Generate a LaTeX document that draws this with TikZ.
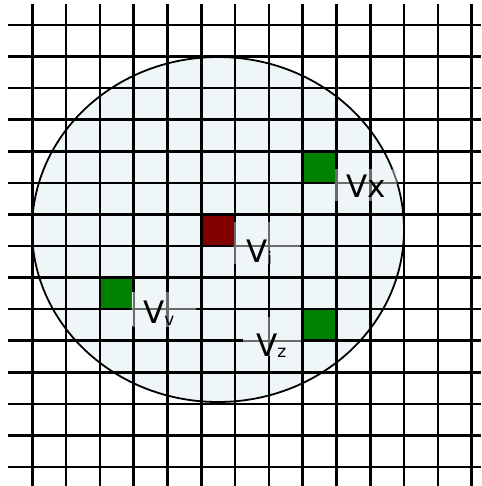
\documentclass[tikz,border=0pt]{standalone}
\usepackage{fontspec}
\setmainfont{DejaVu Sans}
\definecolor{disk}{HTML}{EEF6F8}
\definecolor{cellred}{HTML}{800000}
\definecolor{cellgreen}{HTML}{008000}
\begin{document}
\begin{tikzpicture}[x=1pt,y=-1pt,
  gridline/.style={line width=2.6pt,black},
  veilline/.style={line width=2.4pt,color=black!58},
  lbl/.style={inner sep=0pt,anchor=base west,font=\fontsize{31}{36}\selectfont}]
\useasboundingbox (0,0) rectangle (481,486);
% disk
\fill[disk] (218,229.5) ellipse [x radius=186,y radius=172.5];
% cells
\fill[cellred]   (201,215) rectangle (234,247);
\fill[cellgreen] (302,152) rectangle (336,183);
\fill[cellgreen] (99,278)  rectangle (133,310);
\fill[cellgreen] (302,310) rectangle (336,341);
% grid
\foreach \i in {0,...,13} {
  \draw[gridline] ({32.3+33.8*\i},4) -- ({32.3+33.8*\i},486);
}
\foreach \j in {0,...,14} {
  \draw[gridline] (8,{25+31.57*\j}) -- (481,{25+31.57*\j});
}
% disk outline
\draw[line width=1.8pt] (218,229.5) ellipse [x radius=186,y radius=172.5];
% label veils: grid seen through the label boxes is grey
\foreach \xa/\ya/\xb/\yb in {233.5/222/300/263, 334.5/170/397/200, 131.5/292/196/326, 243/317/301/355} {
  \begin{scope}
    \clip (\xa,\ya) rectangle (\xb,\yb);
    \fill[disk] (\xa,\ya) rectangle (\xb,\yb);
    \foreach \i in {0,...,13} {
      \draw[veilline] ({32.3+33.8*\i},4) -- ({32.3+33.8*\i},486);
    }
    \foreach \j in {0,...,14} {
      \draw[veilline] (8,{25+31.57*\j}) -- (481,{25+31.57*\j});
    }
    \draw[line width=1.8pt,black!58] (218,229.5) ellipse [x radius=186,y radius=172.5];
  \end{scope}
}
% labels
\node[lbl] (vi) at (246,262) {V\raisebox{-2pt}{\fontsize{17}{20}\selectfont i}};
\node[lbl] (vx) at (346,197) {Vx};
\node[lbl] (vv) at (143,323) {V\raisebox{-2pt}{\fontsize{17}{20}\selectfont v}};
\node[lbl] (vz) at (256,356) {V\raisebox{-1pt}{\fontsize{17}{20}\selectfont z}};
\end{tikzpicture}
\end{document}
